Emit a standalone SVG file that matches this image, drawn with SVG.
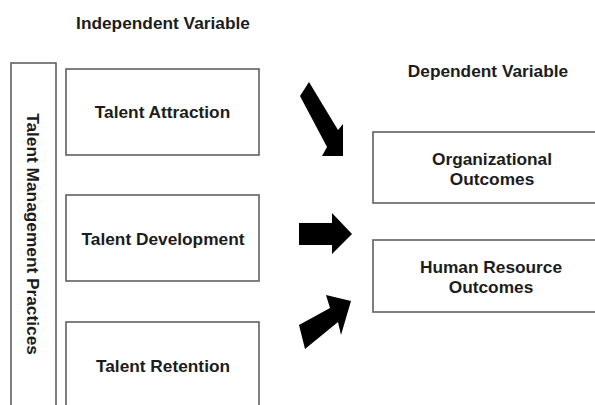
<svg xmlns="http://www.w3.org/2000/svg" width="595" height="405" viewBox="0 0 595 405">
  <style>
    .box { fill: #ffffff; stroke: #5f5f5f; stroke-width: 1.6; }
    .lbl { font-family: "Liberation Sans", Arial, sans-serif; font-weight: bold; font-size: 17.3px; fill: #1c1c1c; text-anchor: middle; }
    .arrow { fill: #000000; }
  </style>
  <rect width="595" height="405" fill="#ffffff"/>

  <!-- headings -->
  <text class="lbl" x="163" y="29">Independent Variable</text>
  <text class="lbl" x="488" y="77">Dependent Variable</text>

  <!-- umbrella box for the practices -->
  <g id="practices">
    <rect class="box" x="11" y="63" width="45" height="360"/>
    <text class="lbl" transform="translate(27,234) rotate(90)">Talent Management Practices</text>
  </g>

  <g id="attraction">
    <rect class="box" x="66" y="69" width="193" height="86"/>
    <text class="lbl" x="162.5" y="118">Talent Attraction</text>
  </g>

  <g id="development">
    <rect class="box" x="66" y="195" width="193" height="86"/>
    <text class="lbl" x="163" y="245">Talent Development</text>
  </g>

  <g id="retention">
    <rect class="box" x="66" y="322" width="193" height="100"/>
    <text class="lbl" x="163" y="372">Talent Retention</text>
  </g>

  <g id="org-outcomes">
    <rect class="box" x="373" y="132" width="240" height="71"/>
    <text class="lbl" x="492" y="165">Organizational</text>
    <text class="lbl" x="492" y="185">Outcomes</text>
  </g>

  <g id="hr-outcomes">
    <rect class="box" x="373" y="240" width="240" height="72"/>
    <text class="lbl" x="491" y="273">Human Resource</text>
    <text class="lbl" x="491" y="293">Outcomes</text>
  </g>

  <!-- block arrows -->
  <g id="connectors">
    <polygon class="arrow" points="309,82 338,130 343,124 343,156 322,156 327,147 300,96"/>
    <polygon class="arrow" points="299,223 332,223 332,213 352,234 332,254 332,245 299,245"/>
    <polygon class="arrow" points="299,325 330,308 326,295 351,301 341,335 338,322 305,349"/>
  </g>
</svg>
